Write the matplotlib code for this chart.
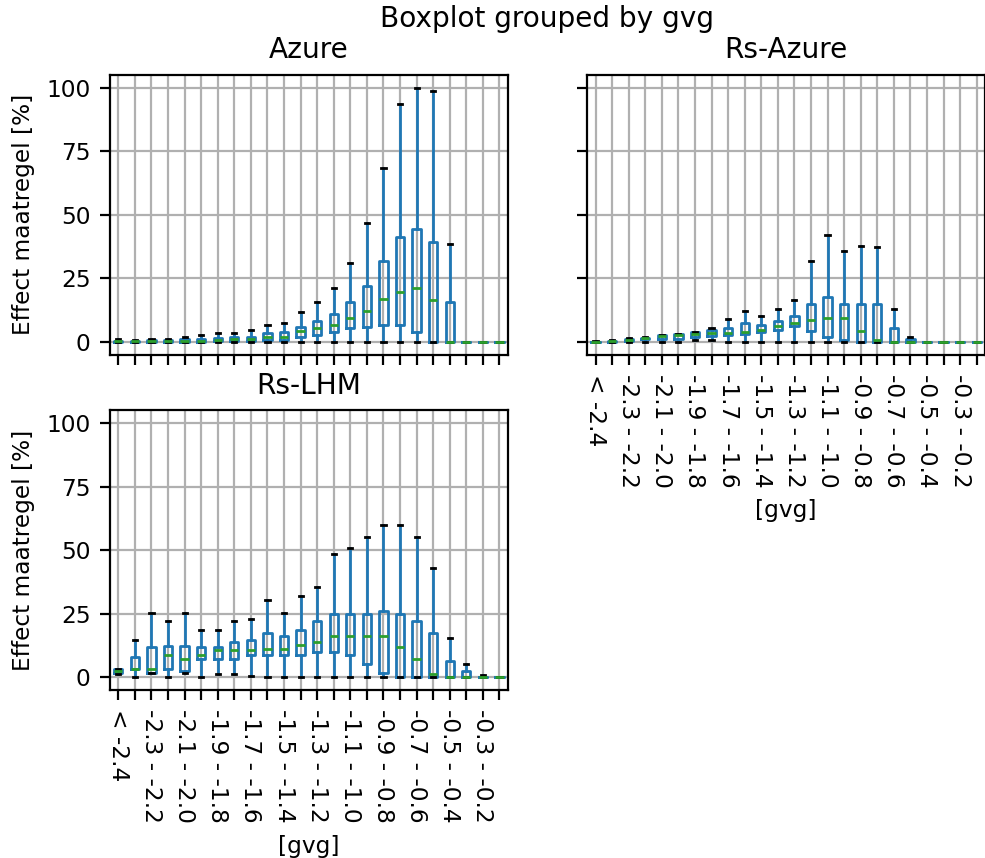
import matplotlib
matplotlib.use("Agg")
import matplotlib.pyplot as plt

plt.rcParams["font.size"] = 8.4

# gvg classes (groundwater level bins)
categories = [
    "< -2.4", "-2.4 - -2.3", "-2.3 - -2.2", "-2.2 - -2.1", "-2.1 - -2.0",
    "-2.0 - -1.9", "-1.9 - -1.8", "-1.8 - -1.7", "-1.7 - -1.6", "-1.6 - -1.5",
    "-1.5 - -1.4", "-1.4 - -1.3", "-1.3 - -1.2", "-1.2 - -1.1", "-1.1 - -1.0",
    "-1.0 - -0.9", "-0.9 - -0.8", "-0.8 - -0.7", "-0.7 - -0.6", "-0.6 - -0.5",
    "-0.5 - -0.4", "-0.4 - -0.3", "-0.3 - -0.2", "-0.2 - -0.1",
]

# Box statistics per gvg class: lower whisker, Q1, median, Q3, upper whisker
azure_whislo = [0] * 24
azure_q1 = [0, 0, 0, 0, 0, 0, 0.2, 0.2, 0.3, 0.6, 0.8, 1.8, 2.6, 4.0, 5.3, 6.0,
            6.6, 6.6, 4.0, 0, 0, 0, 0, 0]
azure_med = [0.2, 0.2, 0.3, 0.3, 0.4, 0.5, 0.8, 1.0, 1.2, 2.0, 2.1, 4.1, 5.4, 6.7,
             9.5, 12.1, 17.0, 19.6, 21.0, 16.3, 0, 0, 0, 0]
azure_q3 = [0.5, 0.4, 0.6, 0.6, 1.0, 1.0, 1.5, 1.8, 2.0, 3.4, 4.0, 6.0, 8.2, 10.8,
            15.5, 22.1, 31.8, 41.1, 44.4, 39.1, 15.5, 0, 0, 0]
azure_whishi = [1.3, 0.8, 1.2, 1.2, 2.0, 2.6, 3.4, 3.4, 4.7, 6.7, 7.4, 11.6, 15.7,
                21.0, 31.1, 46.6, 68.4, 93.4, 100.0, 98.7, 38.6, 0, 0, 0]

rs_azure_whislo = [0, 0, 0, 0, 0, 0, 0.7, 0.7, 0, 0, 0, 0, 0, 0, 0, 0,
                   0, 0, 0, 0, 0, 0, 0, 0]
rs_azure_q1 = [0, 0, 0.3, 1.1, 1.3, 1.3, 1.8, 2.4, 2.6, 3.2, 4.0, 4.7, 6.1, 4.1,
               1.8, 0.8, 0, 0, 0, 0, 0, 0, 0, 0]
rs_azure_med = [0, 0.3, 0.8, 1.4, 2.2, 2.6, 2.9, 3.4, 3.4, 4.0, 4.7, 6.1, 7.4,
                8.7, 9.5, 9.5, 4.1, 0.7, 0, 0, 0, 0, 0, 0]
rs_azure_q3 = [0.1, 0.5, 1.1, 1.7, 2.6, 3.2, 3.7, 4.5, 5.5, 7.4, 6.6, 8.2, 10.3,
               14.9, 17.5, 14.9, 14.9, 14.9, 5.4, 1.0, 0, 0, 0, 0]
rs_azure_whishi = [0.2, 0.7, 1.4, 2.0, 2.6, 3.2, 4.0, 5.5, 9.0, 12.3, 10.0, 13.0,
                   16.3, 31.8, 41.9, 35.8, 37.9, 37.2, 12.9, 2.1, 0, 0, 0, 0]

rs_lhm_whislo = [1.3, 0, 1.8, 0, 1.8, 0, 1.3, 1.3, 0.5, 0, 0, 0, 0, 0, 0, 0,
                 0, 0, 0, 0, 0, 0, 0, 0]
rs_lhm_q1 = [1.8, 3.1, 1.8, 3.4, 2.4, 7.3, 7.3, 7.3, 8.7, 8.7, 8.7, 8.7, 10.0,
             10.0, 8.7, 5.2, 1.8, 0, 0, 0, 0, 0, 0, 0]
rs_lhm_med = [2.6, 3.4, 3.4, 8.7, 7.3, 8.7, 10.6, 10.6, 10.6, 11.3, 11.3, 12.6,
              14.0, 16.1, 16.1, 16.1, 16.1, 12.1, 7.3, 1.3, 0, 0, 0, 0]
rs_lhm_q3 = [3.1, 7.9, 11.9, 12.5, 12.5, 11.9, 11.9, 14.0, 14.5, 17.3, 16.1, 18.7,
             22.0, 25.0, 25.0, 25.0, 26.2, 25.0, 22.0, 17.3, 6.6, 2.6, 0.3, 0]
rs_lhm_whishi = [3.1, 14.8, 25.4, 22.3, 25.4, 18.7, 18.7, 22.3, 22.8, 30.3, 25.4,
                 32.1, 35.6, 48.4, 51.0, 55.2, 59.8, 59.8, 55.2, 43.0, 15.5, 5.2,
                 0.8, 0]

panels = [
    ("Azure", azure_whislo, azure_q1, azure_med, azure_q3, azure_whishi),
    ("Rs-Azure", rs_azure_whislo, rs_azure_q1, rs_azure_med, rs_azure_q3, rs_azure_whishi),
    ("Rs-LHM", rs_lhm_whislo, rs_lhm_q1, rs_lhm_med, rs_lhm_q3, rs_lhm_whishi),
]

DPI = 200
fig, axes = plt.subplots(2, 2, figsize=(985 / DPI, 858 / DPI), dpi=DPI,
                         sharex=True, sharey=True)
fig.subplots_adjust(left=110 / 985, right=1.0, bottom=1 - 690 / 858,
                    top=1 - 75 / 858, wspace=0.2, hspace=0.2)
axes = axes.ravel()
axes[3].set_visible(False)

positions = list(range(1, len(categories) + 1))
shown_labels = [c if i % 2 == 0 else "" for i, c in enumerate(categories)]

for ax, (name, lo, q1, med, q3, hi) in zip(axes, panels):
    stats = [
        dict(whislo=a, q1=b, med=c, q3=d, whishi=e, fliers=[], label=lab)
        for a, b, c, d, e, lab in zip(lo, q1, med, q3, hi, categories)
    ]
    ax.bxp(stats, positions=positions, widths=0.5, showfliers=False,
           boxprops=dict(color="#1f77b4"),
           whiskerprops=dict(color="#1f77b4"),
           medianprops=dict(color="#2ca02c"),
           capprops=dict(color="k"))
    ax.set_title(name)
    ax.grid(True)
    ax.set_axisbelow(True)

for ax in axes[:3]:
    ax.set_xlim(0.5, len(categories) + 0.5)
    ax.set_ylim(-5, 105)
    ax.set_yticks([0, 25, 50, 75, 100])
    ax.set_xticks(positions)

# Tick labels on the panels without a panel below them
for ax in (axes[1], axes[2]):
    ax.tick_params(axis="x", labelbottom=True)
    ax.set_xticklabels(shown_labels, rotation=270)
    ax.set_xlabel("[gvg]")
axes[0].tick_params(axis="x", labelbottom=False)
axes[1].tick_params(axis="y", labelleft=False)

axes[0].set_ylabel("Effect maatregel [%]")
axes[2].set_ylabel("Effect maatregel [%]")

fig.suptitle("Boxplot grouped by gvg", x=0.555, y=1 - 5 / 858, va="top")

fig.savefig("out.png", dpi=DPI)
